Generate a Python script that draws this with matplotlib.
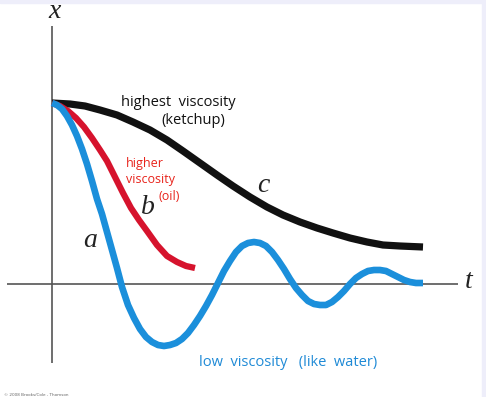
import matplotlib
matplotlib.use("Agg")
import matplotlib.pyplot as plt
from matplotlib.patches import Rectangle

# values (arbitrary units, t from origin, x above the t axis)
# curve c: highest viscosity (ketchup), overdamped
t_c = [0, 18, 33, 48, 65, 81, 98, 115, 131, 148, 165, 181, 198, 215, 231, 248,
       265, 281, 298, 315, 331, 348, 371]
x_c = [181, 180, 178, 174, 169, 162, 154, 144, 133, 121, 109, 98, 87, 77, 69, 62,
       56, 51, 46, 42, 39, 38, 37]

# curve b: higher viscosity (oil)
t_b = [0, 8, 16, 24, 32, 40, 48, 55, 63, 71, 79, 87, 95, 105, 115, 125, 134, 143]
x_b = [181, 178, 173, 166, 157, 146, 134, 123, 107, 91, 76, 64, 53, 39, 28, 22, 18, 16]

# curve a: low viscosity (like water), underdamped
t_a = [0, 5, 10, 15, 20, 25, 30, 35, 40, 45, 50, 55, 60, 65, 70, 76, 82, 88, 94,
       100, 106, 112, 118, 124, 130, 136, 142, 148, 154, 160, 166, 172, 178, 184,
       190, 196, 202, 208, 214, 220, 226, 232, 238, 244, 250, 256, 262, 268, 274,
       280, 286, 292, 298, 304, 310, 316, 322, 328, 334, 340, 346, 352, 358, 364, 371]
x_a = [181, 179, 175, 168, 159, 148, 135, 120, 103, 85, 70, 52, 34, 16, -3, -21,
       -34, -45, -53, -58, -61, -62, -61, -59, -55, -49, -41, -32, -22, -11, 1, 13,
       23, 32, 38, 41, 42, 41, 38, 32, 24, 15, 5, -4, -11, -17, -20, -21, -21, -18,
       -13, -7, 0, 6, 10, 13, 14, 14, 13, 10, 7, 4, 2, 1, 1]

W, H = 486, 397
fig = plt.figure(figsize=(W / 100, H / 100), dpi=100)
ax = fig.add_axes([0, 0, 1, 1])
ax.set_xlim(-52, W - 52)
ax.set_ylim(284 - H, 284)
ax.axis("off")

# axes lines
ax.plot([-45, 406], [0, 0], color="#555555", lw=1.2, solid_capstyle="butt")
ax.plot([0, 0], [284 - 363, 284 - 26], color="#555555", lw=1.2, solid_capstyle="butt")

line_kw = dict(solid_capstyle="butt", solid_joinstyle="round")
ax.plot(t_c, x_c, color="#111111", lw=5.2, zorder=3, **line_kw)
ax.plot(t_b, x_b, color="#d6132d", lw=4.5, zorder=4, **line_kw)
ax.plot(t_a, x_a, color="#1b8fdb", lw=4.8, zorder=5, **line_kw)


def px(x, y, s, **kw):
    fig.text(x / W, 1 - y / H, s, **kw)


serif = dict(family="Liberation Serif", style="italic", fontsize=20, color="#222222",
             ha="center", va="center")
px(55, 12, "x", **serif)
px(469, 282, "t", **serif)
px(90, 240, "a", **serif)
px(148, 207, "b", **serif)
px(263, 186, "c", **serif)

hand = dict(family="Open Sans", va="center", ha="left")
px(121, 102, "highest  viscosity", color="#111111", fontsize=10.5, **hand)
px(161, 121, "(ketchup)", color="#111111", fontsize=10.5, **hand)
px(126, 163, "higher", color="#e8231b", fontsize=9, **hand)
px(126, 179, "viscosity", color="#e8231b", fontsize=9, **hand)
px(158, 196, "(oil)", color="#e8231b", fontsize=9, **hand)
px(199, 362, "low  viscosity   (like  water)", color="#1f8ad6", fontsize=10.5, **hand)

px(4, 395, "\u00a9 2008 Brooks/Cole - Thomson", family="DejaVu Sans", fontsize=3,
   color="#666666", va="center", ha="left")

# light frame at top and right edge
fig.patches.append(Rectangle((0, 1 - 3 / H), 1, 3 / H, transform=fig.transFigure,
                             color="#eeeefa", zorder=0))
fig.patches.append(Rectangle((1 - 4 / W, 0), 4 / W, 1, transform=fig.transFigure,
                             color="#eeeefa", zorder=0))

fig.savefig("out.png", dpi=100)
